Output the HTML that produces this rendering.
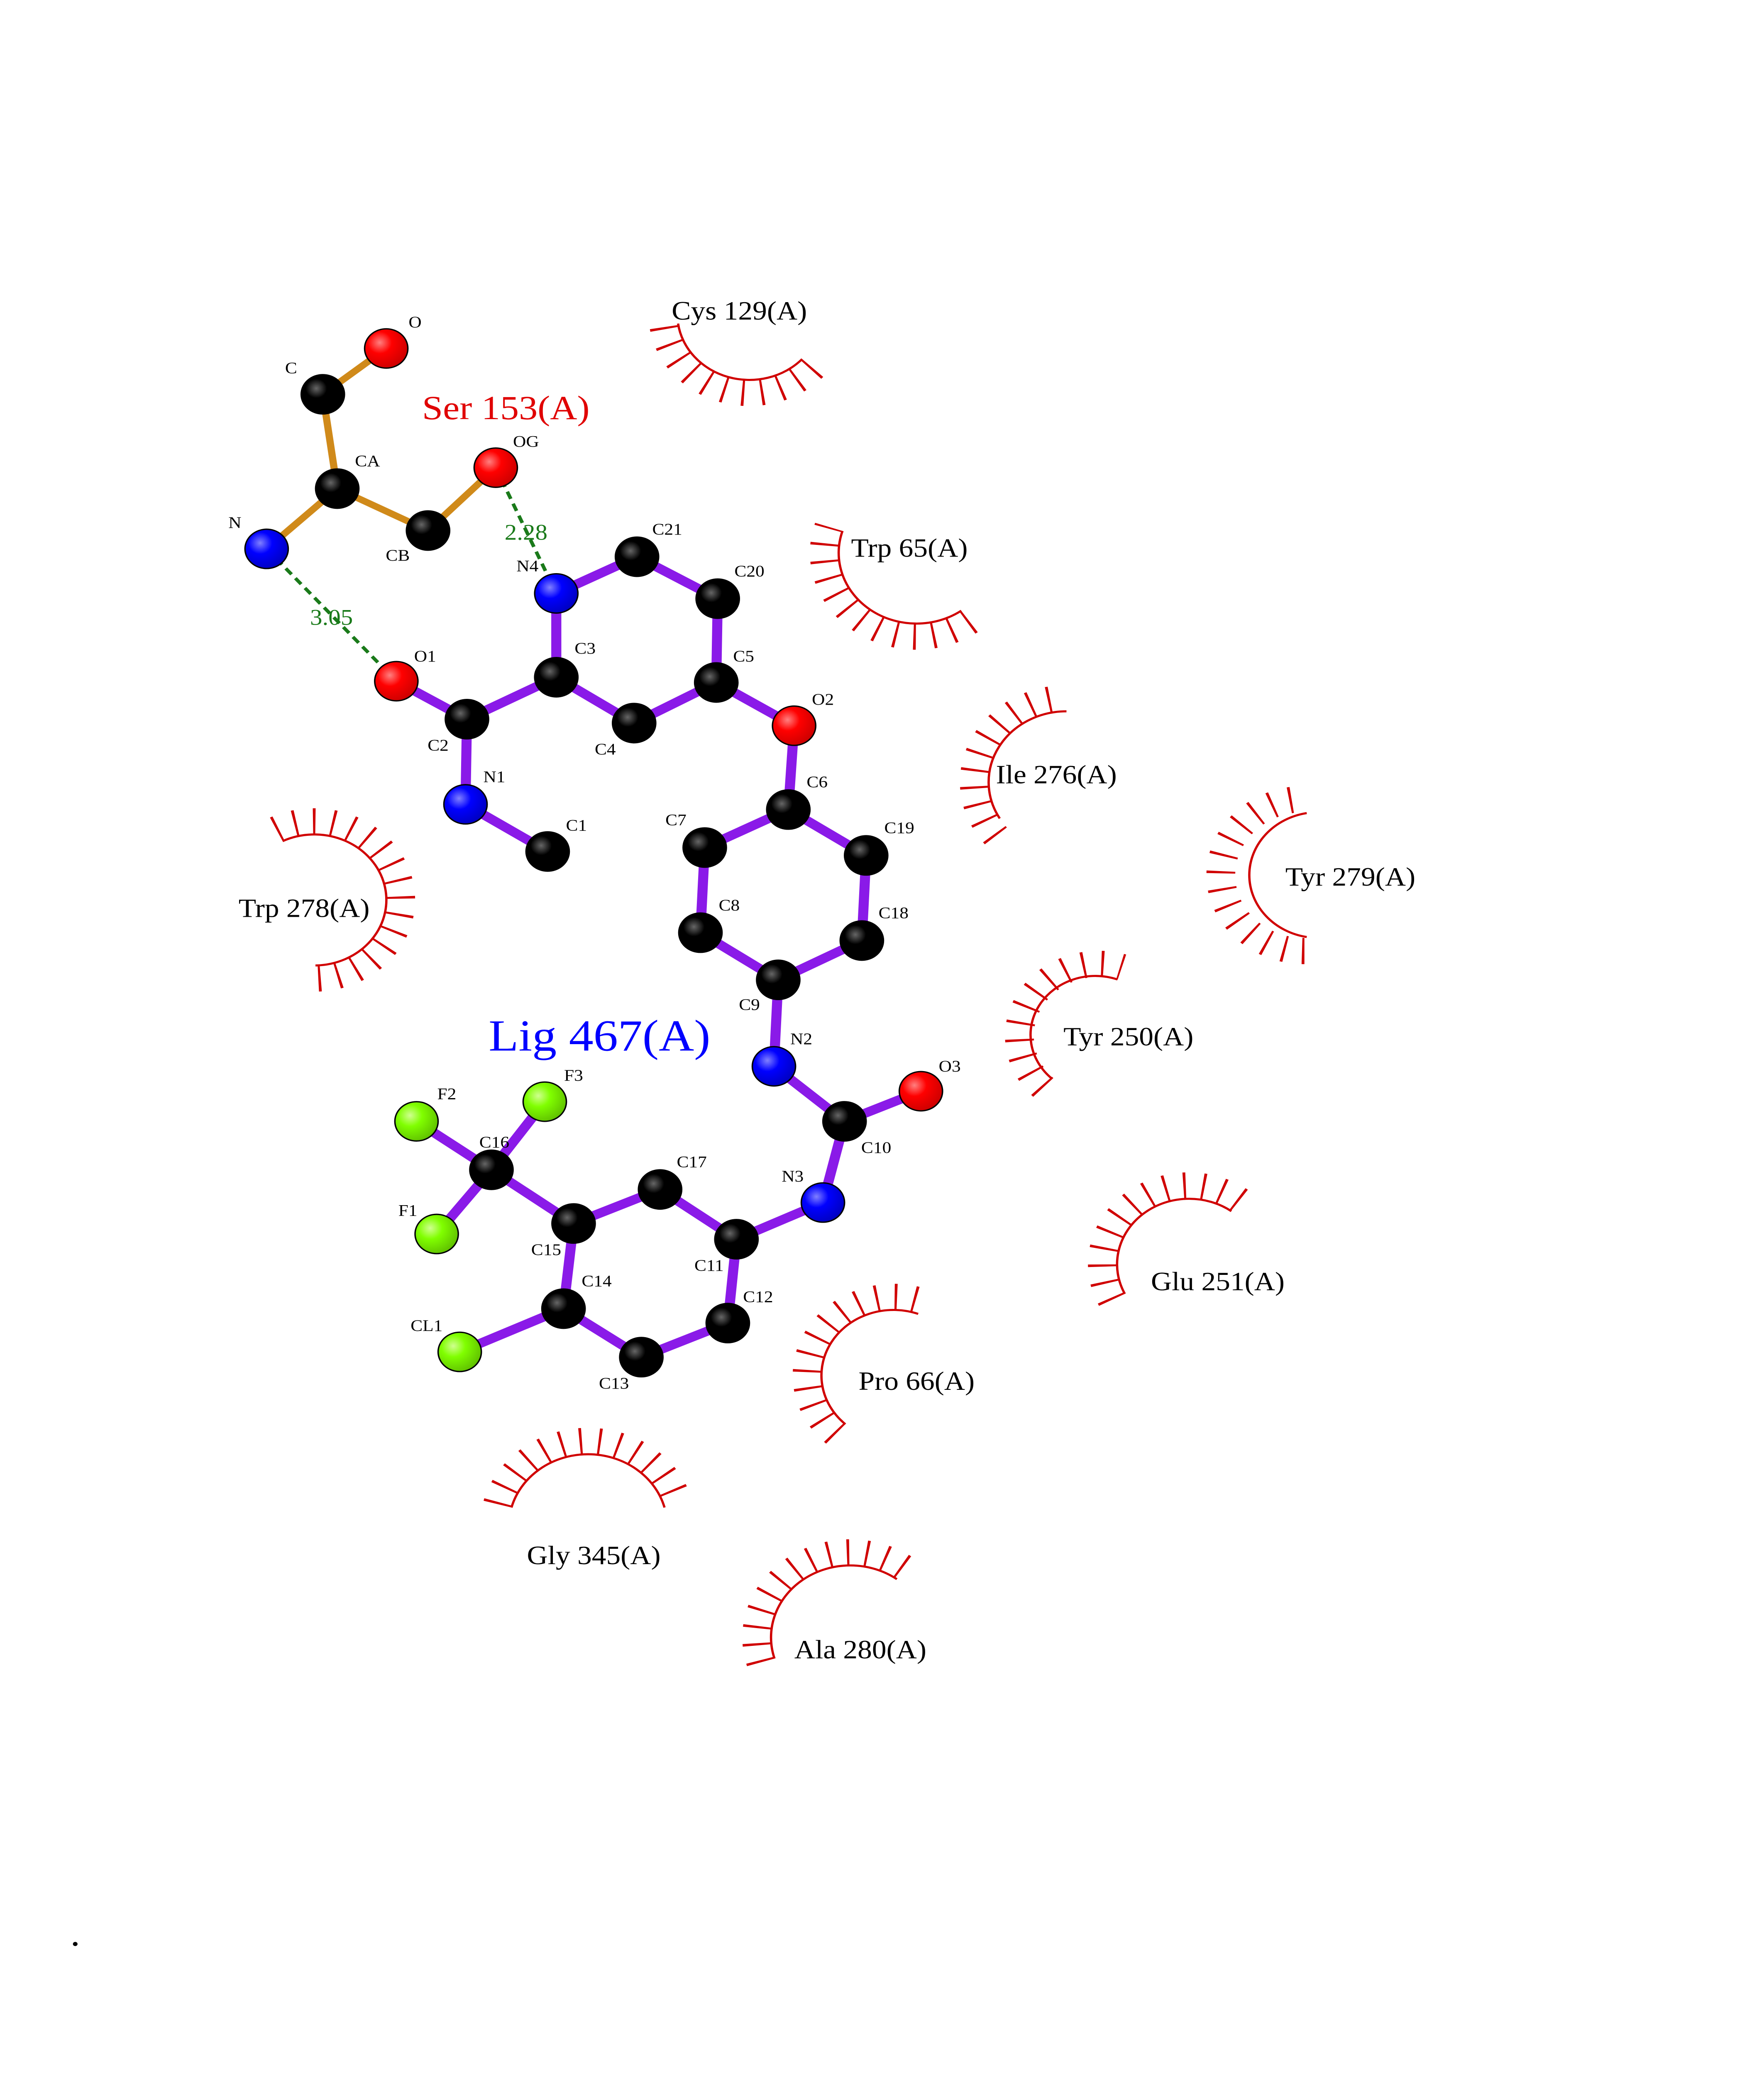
<!DOCTYPE html>
<html><head><meta charset="utf-8"><style>
html,body{margin:0;padding:0;background:#fff;width:100%;height:100%;overflow:hidden;}
svg{display:block;position:fixed;left:0;top:0;width:100vw;height:100vh;}
text{font-family:"Liberation Serif",serif;}
.al{font-size:12.5px;text-anchor:middle;fill:#000;}
.rl{font-size:20px;fill:#000;text-anchor:middle;}
.arc{fill:none;stroke:#d00000;stroke-width:1.6;}
.tk{fill:none;stroke:#d00000;stroke-width:20;stroke-dasharray:1.7 11.5;}
.ob{stroke:#d08a1a;stroke-width:5;stroke-linecap:round;}
.pb{stroke:#8a1ae8;stroke-width:7;stroke-linecap:round;}
.hb{stroke:#1a7a1a;stroke-width:2.5;stroke-dasharray:6 4;}
</style></head><body>
<svg viewBox="0 0 1224 1584" preserveAspectRatio="none" xmlns="http://www.w3.org/2000/svg">
<defs>
<radialGradient id="gk" cx="35%" cy="35%" r="70%"><stop offset="0" stop-color="#666"/><stop offset="0.35" stop-color="#000"/></radialGradient>
<radialGradient id="gr" cx="35%" cy="35%" r="70%"><stop offset="0" stop-color="#ff8080"/><stop offset="0.4" stop-color="#ff0000"/><stop offset="1" stop-color="#c00"/></radialGradient>
<radialGradient id="gb" cx="35%" cy="35%" r="70%"><stop offset="0" stop-color="#8080ff"/><stop offset="0.4" stop-color="#0000ff"/><stop offset="1" stop-color="#0000c0"/></radialGradient>
<radialGradient id="gg" cx="35%" cy="35%" r="70%"><stop offset="0" stop-color="#d0ff90"/><stop offset="0.4" stop-color="#80ff00"/><stop offset="1" stop-color="#60c000"/></radialGradient>
</defs>
<rect width="1224" height="1584" fill="#fff"/>

<path class="arc" d="M556.6,274.1 A50,50 0 0 1 470.5,247"/><path class="tk" d="M563.9,280.9 A60,60 0 0 1 460.6,248.4"/>
<path class="arc" d="M667,466.2 A54,54 0 0 1 584.6,405.3"/><path class="tk" d="M672.7,474.4 A64,64 0 0 1 575.1,402.2"/>
<path class="arc" d="M693.7,624.8 A54,54 0 0 1 740,543"/><path class="tk" d="M691,638.1 A64,64 0 0 1 740,533"/>
<path class="arc" d="M906.7,715.3 A48,48 0 0 1 906.7,620.7"/><path class="tk" d="M905.1,726 A58,58 0 0 1 905.1,610"/>
<path class="arc" d="M196.1,642.1 A50,50 0 1 1 218.9,737"/><path class="tk" d="M191.7,633.1 A60,60 0 1 1 219,747"/>
<path class="arc" d="M729.9,823.4 A45,45 0 0 1 775.4,747.7"/><path class="tk" d="M723.9,830.1 A55,55 0 0 1 778.5,738.2"/>
<path class="arc" d="M780.5,987.7 A50,50 0 0 1 854.4,924.6"/><path class="tk" d="M771.5,992.3 A60,60 0 0 1 860.3,916.5"/>
<path class="arc" d="M586.6,1087.2 A50,50 0 0 1 637.1,1003"/><path class="tk" d="M579.9,1094.6 A60,60 0 0 1 640.5,993.6"/>
<path class="arc" d="M354.9,1150.8 A55,55 0 0 1 461.1,1150.8"/><path class="tk" d="M345.2,1148.2 A65,65 0 0 1 470.8,1148.2"/>
<path class="arc" d="M537.4,1266.1 A55,55 0 0 1 622.3,1205.5"/><path class="tk" d="M527.9,1269 A65,65 0 0 1 628.2,1197.4"/>

<text class="rl" x="513" y="244">Cys 129(A)</text>
<text class="rl" x="631" y="425">Trp 65(A)</text>
<text class="rl" x="733" y="598">Ile 276(A)</text>
<text class="rl" x="937" y="676">Tyr 279(A)</text>
<text class="rl" x="211" y="700">Trp 278(A)</text>
<text class="rl" x="783" y="798">Tyr 250(A)</text>
<text class="rl" x="845" y="985">Glu 251(A)</text>
<text class="rl" x="636" y="1061">Pro 66(A)</text>
<text class="rl" x="412" y="1194">Gly 345(A)</text>
<text class="rl" x="597" y="1266">Ala 280(A)</text>
<text x="351" y="320" font-size="26" fill="#e00000" text-anchor="middle">Ser 153(A)</text>
<text x="416" y="802" font-size="34" fill="#0000ff" text-anchor="middle">Lig 467(A)</text>
<circle cx="52.2" cy="1484" r="1.6" fill="#000"/>

<line class="hb" x1="344" y1="357" x2="386" y2="453"/>
<line class="hb" x1="185" y1="419" x2="275" y2="520"/>
<text x="365" y="412" font-size="17" fill="#1a7a1a" text-anchor="middle">2.28</text>
<text x="230" y="477" font-size="17" fill="#1a7a1a" text-anchor="middle">3.05</text>

<g class="ob">
<line x1="268" y1="266" x2="224" y2="301"/><line x1="224" y1="301" x2="234" y2="373"/>
<line x1="234" y1="373" x2="185" y2="419"/><line x1="234" y1="373" x2="297" y2="405"/>
<line x1="297" y1="405" x2="344" y2="357"/>
</g>
<g class="pb">
<line x1="386" y1="453" x2="442" y2="425"/><line x1="442" y1="425" x2="498" y2="457"/>
<line x1="498" y1="457" x2="497" y2="521"/><line x1="497" y1="521" x2="440" y2="552"/>
<line x1="440" y1="552" x2="386" y2="517"/><line x1="386" y1="517" x2="386" y2="453"/>
<line x1="386" y1="517" x2="324" y2="549"/><line x1="324" y1="549" x2="275" y2="520"/>
<line x1="324" y1="549" x2="323" y2="614"/><line x1="323" y1="614" x2="380" y2="650"/>
<line x1="497" y1="521" x2="551" y2="554"/><line x1="551" y1="554" x2="547" y2="618"/>
<line x1="547" y1="618" x2="489" y2="647"/><line x1="489" y1="647" x2="486" y2="712"/>
<line x1="486" y1="712" x2="540" y2="748"/><line x1="540" y1="748" x2="598" y2="718"/>
<line x1="598" y1="718" x2="601" y2="653"/><line x1="601" y1="653" x2="547" y2="618"/>
<line x1="540" y1="748" x2="537" y2="814"/><line x1="537" y1="814" x2="586" y2="856"/>
<line x1="586" y1="856" x2="639" y2="833"/><line x1="586" y1="856" x2="571" y2="918"/>
<line x1="571" y1="918" x2="511" y2="946"/><line x1="511" y1="946" x2="458" y2="908"/>
<line x1="458" y1="908" x2="398" y2="934"/><line x1="398" y1="934" x2="341" y2="893"/>
<line x1="341" y1="893" x2="289" y2="856"/><line x1="341" y1="893" x2="378" y2="841"/>
<line x1="341" y1="893" x2="303" y2="942"/><line x1="398" y1="934" x2="391" y2="999"/>
<line x1="391" y1="999" x2="445" y2="1036"/><line x1="445" y1="1036" x2="505" y2="1010"/>
<line x1="505" y1="1010" x2="511" y2="946"/><line x1="391" y1="999" x2="319" y2="1032"/>
</g>

<g stroke="#000" stroke-width="1">
<circle cx="268" cy="266" r="15" fill="url(#gr)"/>
<circle cx="224" cy="301" r="15" fill="url(#gk)"/>
<circle cx="234" cy="373" r="15" fill="url(#gk)"/>
<circle cx="297" cy="405" r="15" fill="url(#gk)"/>
<circle cx="344" cy="357" r="15" fill="url(#gr)"/>
<circle cx="185" cy="419" r="15" fill="url(#gb)"/>
<circle cx="386" cy="453" r="15" fill="url(#gb)"/>
<circle cx="442" cy="425" r="15" fill="url(#gk)"/>
<circle cx="498" cy="457" r="15" fill="url(#gk)"/>
<circle cx="497" cy="521" r="15" fill="url(#gk)"/>
<circle cx="440" cy="552" r="15" fill="url(#gk)"/>
<circle cx="386" cy="517" r="15" fill="url(#gk)"/>
<circle cx="275" cy="520" r="15" fill="url(#gr)"/>
<circle cx="324" cy="549" r="15" fill="url(#gk)"/>
<circle cx="323" cy="614" r="15" fill="url(#gb)"/>
<circle cx="380" cy="650" r="15" fill="url(#gk)"/>
<circle cx="551" cy="554" r="15" fill="url(#gr)"/>
<circle cx="547" cy="618" r="15" fill="url(#gk)"/>
<circle cx="489" cy="647" r="15" fill="url(#gk)"/>
<circle cx="486" cy="712" r="15" fill="url(#gk)"/>
<circle cx="540" cy="748" r="15" fill="url(#gk)"/>
<circle cx="598" cy="718" r="15" fill="url(#gk)"/>
<circle cx="601" cy="653" r="15" fill="url(#gk)"/>
<circle cx="537" cy="814" r="15" fill="url(#gb)"/>
<circle cx="586" cy="856" r="15" fill="url(#gk)"/>
<circle cx="639" cy="833" r="15" fill="url(#gr)"/>
<circle cx="571" cy="918" r="15" fill="url(#gb)"/>
<circle cx="511" cy="946" r="15" fill="url(#gk)"/>
<circle cx="458" cy="908" r="15" fill="url(#gk)"/>
<circle cx="398" cy="934" r="15" fill="url(#gk)"/>
<circle cx="341" cy="893" r="15" fill="url(#gk)"/>
<circle cx="289" cy="856" r="15" fill="url(#gg)"/>
<circle cx="378" cy="841" r="15" fill="url(#gg)"/>
<circle cx="303" cy="942" r="15" fill="url(#gg)"/>
<circle cx="391" cy="999" r="15" fill="url(#gk)"/>
<circle cx="445" cy="1036" r="15" fill="url(#gk)"/>
<circle cx="505" cy="1010" r="15" fill="url(#gk)"/>
<circle cx="319" cy="1032" r="15" fill="url(#gg)"/>
</g>

<g class="al">
<text x="288" y="250">O</text><text x="202" y="285">C</text><text x="255" y="356">CA</text>
<text x="276" y="428">CB</text><text x="365" y="341">OG</text><text x="163" y="403">N</text>
<text x="366" y="436">N4</text><text x="463" y="408">C21</text><text x="520" y="440">C20</text>
<text x="516" y="505">C5</text><text x="420" y="576">C4</text><text x="406" y="499">C3</text>
<text x="295" y="505">O1</text><text x="304" y="573">C2</text><text x="343" y="597">N1</text>
<text x="400" y="634">C1</text><text x="571" y="538">O2</text><text x="567" y="601">C6</text>
<text x="469" y="630">C7</text><text x="506" y="695">C8</text><text x="520" y="771">C9</text>
<text x="620" y="701">C18</text><text x="624" y="636">C19</text><text x="556" y="797">N2</text>
<text x="608" y="880">C10</text><text x="659" y="818">O3</text><text x="550" y="902">N3</text>
<text x="492" y="970">C11</text><text x="480" y="891">C17</text><text x="379" y="958">C15</text>
<text x="343" y="876">C16</text><text x="310" y="839">F2</text><text x="398" y="825">F3</text>
<text x="283" y="928">F1</text><text x="414" y="982">C14</text><text x="426" y="1060">C13</text>
<text x="526" y="994">C12</text><text x="296" y="1016">CL1</text>
</g>
</svg>
</body></html>
